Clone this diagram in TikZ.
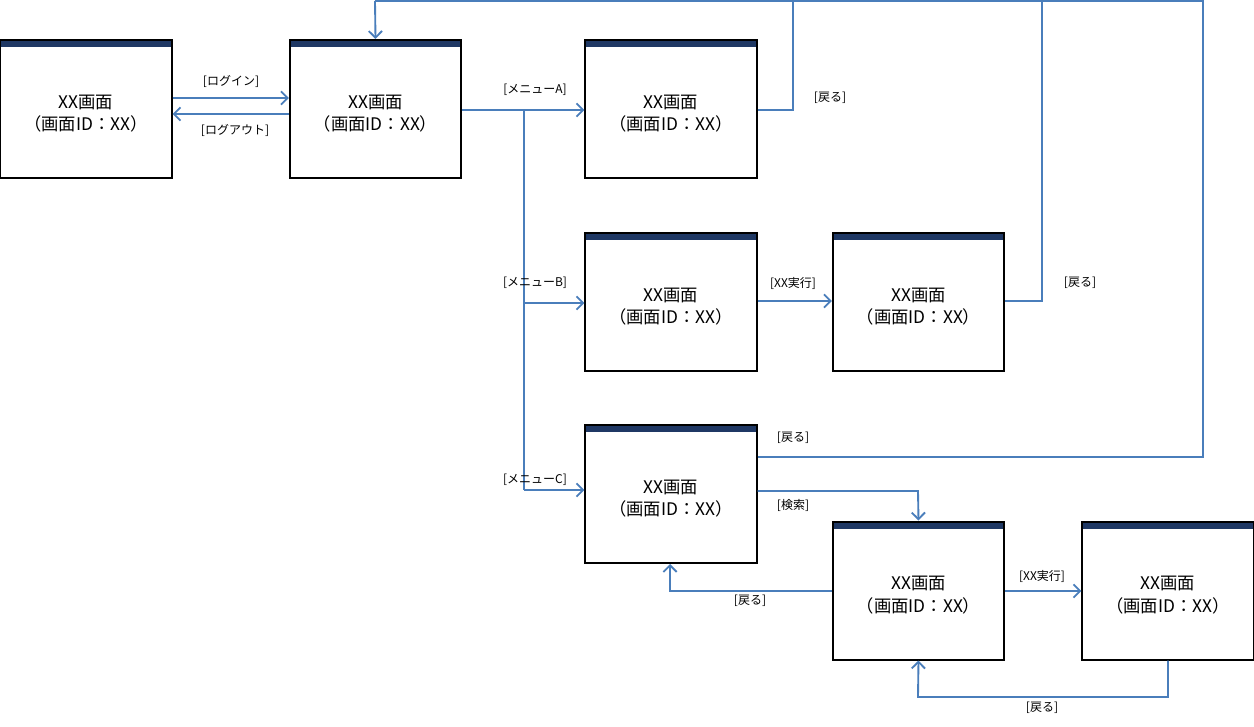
\documentclass[tikz,border=0pt]{standalone}
\usepackage{fontspec}
\setmainfont{Noto Sans CJK JP}
\usetikzlibrary{arrows.meta}
\definecolor{ln}{HTML}{4A7EBB}
\definecolor{hd}{HTML}{1F3864}
\begin{document}
\begin{tikzpicture}[x=0.75pt,y=-0.75pt,
  conn/.style={draw=ln,line width=1.4pt,-{Straight Barb[length=5pt,width=10pt]}},
  connp/.style={draw=ln,line width=1.4pt},
  lbl/.style={font=\fontsize{9}{10}\selectfont,inner sep=1pt},
  scr/.style={draw=black,line width=1.5pt,minimum width=128.3pt,minimum height=103.5pt,inner sep=0pt,align=center,font=\fontsize{13}{17}\selectfont,
    path picture={\fill[hd] ([yshift=0pt]path picture bounding box.north west) rectangle ([yshift=-5.5pt]path picture bounding box.north east);}}]
\useasboundingbox (0,0) rectangle (1254,727);
\foreach \n/\x/\y in {a/86/109, b/375.5/109, c/671/109, d/671/302, e/918.5/302, f/671/494, g/918.5/590.5, h/1168/590.5}
  \node[scr] (\n) at (\x,\y) {\\XX画面\\（画面ID：XX）};
% login/logout
\draw[conn] (a.east |- 0,98) -- (b.west |- 0,98);
\draw[conn] (b.west |- 0,114) -- (a.east |- 0,114);
\node[lbl] at (231,81) {[ログイン]};
\node[lbl] at (235,130) {[ログアウト]};
% menus
\coordinate (br) at (524,110);
\draw[connp] (b.east |- br) -- (br) -- (524,490);
\draw[conn] (br) -- (c.west |- br);
\draw[conn] (524,303) -- (d.west |- 0,303);
\draw[conn] (524,490) -- (f.west |- 0,490);
\node[lbl] at (535,90) {[メニューA]};
\node[lbl] at (535,283) {[メニューB]};
\node[lbl] at (535,480) {[メニューC]};
% back to top
\coordinate (top) at (375,1);
\draw[connp] (c.east |- 0,110) -- (793,110) -- (793,1);
\draw[connp] (e.east |- 0,301) -- (1042,301) -- (1042,1);
\draw[connp] (f.east |- 0,457) -- (1203,457) -- (1203,1) -- (top);
\draw[conn] (top) -- (b.north);
\node[lbl] at (830,98) {[戻る]};
\node[lbl] at (1080,283) {[戻る]};
\node[lbl] at (793,438) {[戻る]};
% exec
\draw[conn] (d.east |- 0,301) -- (e.west |- 0,301);
\node[lbl] at (793,283) {[XX実行]};
% search
\draw[conn] (f.east |- 0,491) -- (918,491) -- (g.north);
\node[lbl] at (793,505) {[検索]};
% g back
\draw[conn] (g.west |- 0,591) -- (670,591) -- (f.south -| 670,0);
\node[lbl] at (750,601) {[戻る]};
\draw[conn] (g.east |- 0,591) -- (h.west |- 0,591);
\node[lbl] at (1042,576) {[XX実行]};
\draw[conn] (h.south) -- (1168,697) -- (918,697) -- (g.south);
\node[lbl] at (1042,708) {[戻る]};
\end{tikzpicture}
\end{document}
